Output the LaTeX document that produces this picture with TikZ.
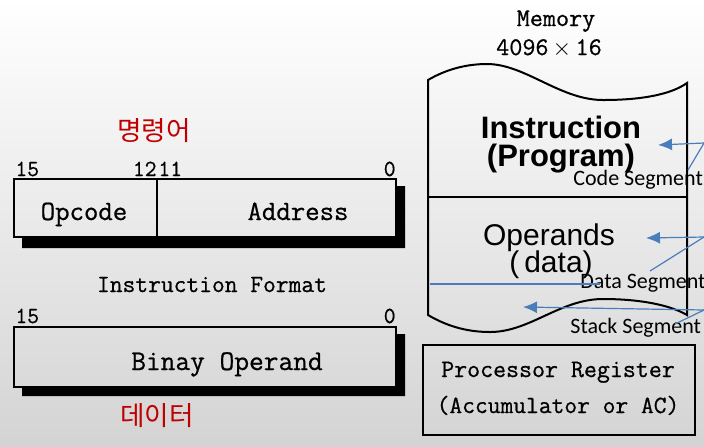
\documentclass[tikz,border=0pt]{standalone}
\usepackage{fontspec}
\setsansfont{Liberation Sans}
\setmonofont{Latin Modern Mono}[FakeBold=0.7]
\newfontfamily\segfont{Carlito}
\newfontfamily\krfont{Noto Sans CJK KR}
\usetikzlibrary{arrows.meta}
\definecolor[named]{SegBlue}{HTML}{4A7EBB}
\definecolor[named]{KorRed}{HTML}{C00000}
\newcommand{\mono}[1]{\fontsize{#1}{#1}\selectfont\ttfamily}
\newcommand{\sans}[1]{\fontsize{#1}{#1}\selectfont\sffamily}
\tikzset{
  frame/.style={line width=1pt},
  heavy/.style={line width=1.3pt},
  seg/.style={SegBlue,line width=0.6pt},
  segarrow/.style={seg,-{Latex[length=7pt,width=6pt]}},
  seglabel/.style={anchor=base west,font=\segfont\fontsize{11}{11}\selectfont},
  korean/.style={KorRed,font=\krfont\fontsize{13.3}{13.3}\selectfont},
}

\begin{document}
\begin{tikzpicture}[x=0.5pt,y=-0.5pt,every node/.style={inner sep=0pt}]
    \useasboundingbox (0,0) rectangle (704,446);
    \shade[top color=white,bottom color=black!17] (0,0) rectangle (704,446);

    % Instruction format
    \begin{scope}
      \fill (396,186) rectangle (405,248) (22,237) rectangle (405,248);
      \draw[frame] (14,179) rectangle (396,237);
      \draw[frame] (157,179) -- (157,237);
      \begin{scope}[every node/.style={inner sep=0pt,font=\mono{11.5}}]
        \node[anchor=base west] (bitA) at (15,176) {15};
        \node[anchor=base east] (bitB) at (157,176) {12};
        \node[anchor=base west] (bitC) at (158,176) {11};
        \node[anchor=base east] (bitD) at (396,176) {0};
      \end{scope}
      \node[anchor=base,font=\mono{14}] (opcode) at (84,220) {Opcode};
      \node[anchor=base,font=\mono{14}] (address) at (298,220) {Address};
      \node[anchor=base,font=\mono{12.4}] (format) at (212,292) {Instruction Format};
      \node[korean] (order) at (154,131) {명령어};
    \end{scope}

    % Data word
    \begin{scope}
      \fill (396,334) rectangle (405,396) (22,387) rectangle (405,396);
      \draw[frame] (14,327) rectangle (396,387);
      \node[anchor=base west,font=\mono{11.5}] (bitE) at (15,323) {15};
      \node[anchor=base east,font=\mono{11.5}] (bitF) at (396,323) {0};
      \node[anchor=base,font=\mono{14.3}] (operand) at (227,370) {Binay Operand};
      \node[korean] (data) at (157,416) {데이터};
    \end{scope}

    % Memory
    \begin{scope}
      \node[anchor=base,font=\mono{12.7}] (mem) at (556,26) {Memory};
      \node[anchor=base,font=\mono{12.7}] (size) at (549,55) {4096\,$\times$\,16};
      \draw[frame]
        (428,315) -- (428,80)
          .. controls (445,70) and (465,64) .. (487,64)
          .. controls (525,64) and (560,100) .. (603,100)
          .. controls (640,100) and (670,95) .. (687,83)
        -- (687,315)
          .. controls (670,305) and (640,299) .. (603,299)
          .. controls (560,299) and (530,332) .. (490,332)
          .. controls (465,332) and (445,325) .. cycle;
      \draw[frame] (428,197) -- (687,197);
      \node[anchor=base,font=\sans{15.5}\bfseries] (instr) at (561,138) {Instruction};
      \node[anchor=base,font=\sans{15.5}\bfseries] (prog) at (561,166) {(Program)};
      \node[anchor=base,font=\sans{15}] (opnds) at (549,245) {Operands};
      \node[anchor=base,font=\sans{15}] (dat) at (551,272) {(\,data)};
    \end{scope}

    % Processor register
    \draw[heavy] (423,345) rectangle (695,435);
    \node[anchor=base,font=\mono{12.6}] (proc) at (558,377) {Processor Register};
    \node[anchor=base,font=\mono{12.4}] (acc) at (558,413) {(Accumulator or AC)};

    % Segment labels
    \node[seglabel] (code) at (573,185) {Code Segment};
    \node[seglabel] (dseg) at (580,288) {Data Segment};
    \node[seglabel] (sseg) at (570,333) {Stack Segment};

    \coordinate (codeR) at (704,143);
    \coordinate (codeTip) at (658,145);
    \coordinate (codeEnd) at (688,170);
    \coordinate (dataR) at (704,237);
    \coordinate (dataTip) at (646,238);
    \coordinate (dataEnd) at (650,271);
    \coordinate (stackR) at (704,310);
    \coordinate (stackTip) at (523,307);
    \coordinate (stackEnd) at (675,324);
    \coordinate (ruleL) at (430,284);
    \coordinate (ruleR) at (600,284);

    \draw[segarrow] (codeR) -- (codeTip);
    \draw[seg] (codeR) -- (codeEnd);
    \draw[segarrow] (dataR) -- (dataTip);
    \draw[seg] (dataR) -- (dataEnd);
    \draw[segarrow] (stackR) -- (stackTip);
    \draw[seg] (stackR) -- (stackEnd);
    \draw[seg] (ruleL) -- (ruleR);

  \end{tikzpicture}
\end{document}
